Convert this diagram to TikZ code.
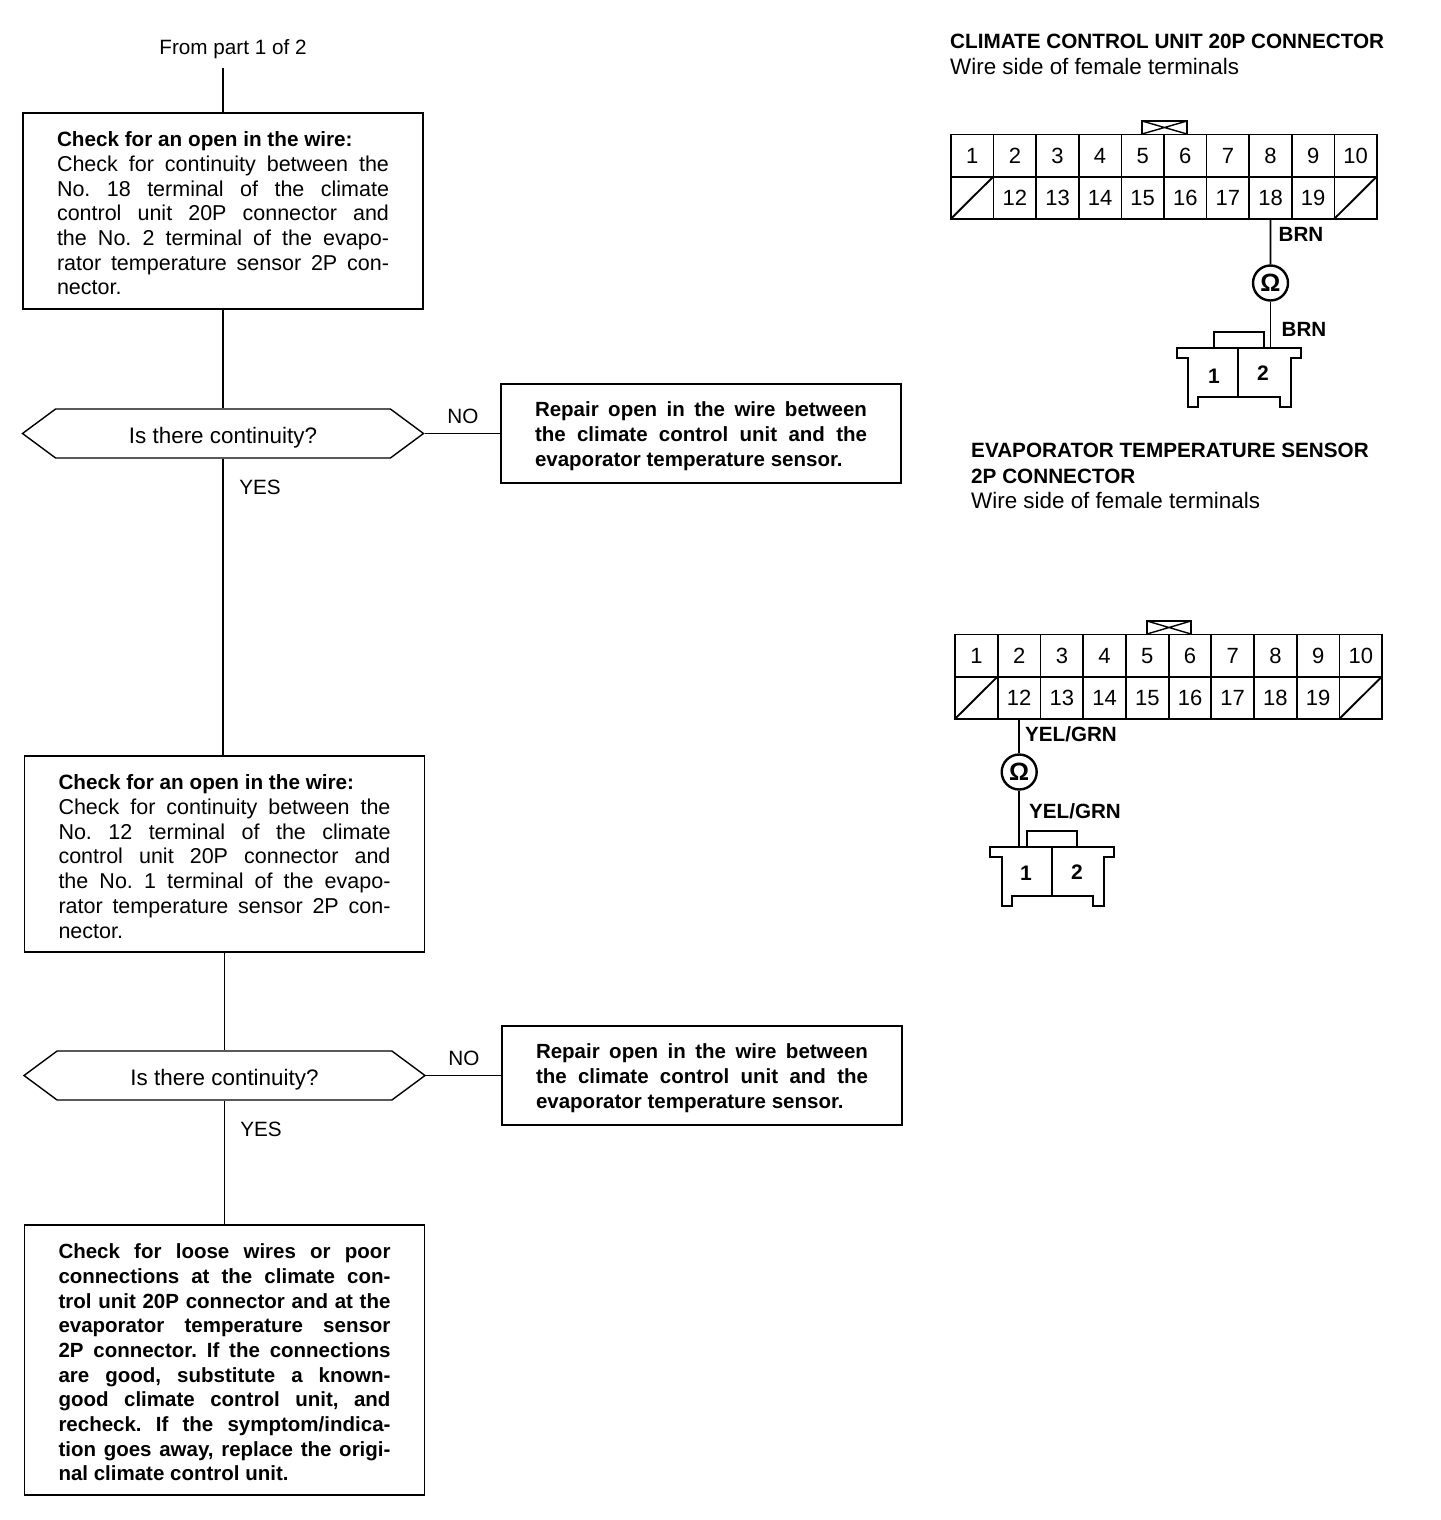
\documentclass[tikz,border=0pt]{standalone}
\usepackage{fontspec}
\setmainfont{Liberation Sans}
\usetikzlibrary{shapes.symbols}
\newcommand{\headfont}{\fontsize{20.7}{25.5}\selectfont\bfseries}
\tikzset{
  flowline/.style={line width=1.4pt},
  wireline/.style={line width=1.9pt},
  checkbox/.style={draw,flowline,inner xsep=34pt,inner ysep=0pt,text width=332pt,align=justify,
    font=\fontsize{21.5}{24.7}\selectfont\frenchspacing,execute at end node={\par\vspace*{-5pt}}},
  boldbox/.style={checkbox,font=\fontsize{20.5}{24.7}\selectfont\bfseries\frenchspacing},
  decision/.style={draw,flowline,shape=signal,signal to=west and east,signal pointer angle=73,
    minimum width=401pt,minimum height=49pt,inner sep=0pt,font=\fontsize{22.4}{24}\selectfont},
  flowtext/.style={font=\fontsize{20.7}{24}\selectfont,inner sep=0pt},
  headtext/.style={anchor=north west,align=left,inner sep=0pt,font=\fontsize{22.4}{25.5}\selectfont},
  wiretext/.style={inner sep=0pt,font=\fontsize{20.6}{24}\selectfont\bfseries},
  pincell/.style={draw,line width=1.7pt,minimum width=42.6pt,minimum height=42.3pt,inner sep=0pt,outer sep=0pt,
    text height=15.4pt,text depth=0pt,font=\fontsize{22}{24}\selectfont},
  ohmcircle/.style={draw,line width=2.4pt,circle,minimum size=35pt,inner sep=0pt,
    font=\fontsize{25}{24}\selectfont\bfseries},
  pinnum/.style={inner sep=0pt,font=\fontsize{21}{24}\selectfont\bfseries}
}
\begin{document}
\begin{tikzpicture}[x=1pt,y=-1pt]
\useasboundingbox (0,0) rectangle (1440,1520);

\node[flowtext] (fromtext) at (233,49) {From part 1 of 2};
\coordinate (fromend) at (223,68);

\node[checkbox,minimum height=196pt] (chkA) at (223,211) {{\headfont Check for an open in the wire:}\newline
Check for continuity between the\linebreak
No. 18 terminal of the climate\linebreak
control unit 20P connector and\linebreak
the No. 2 terminal of the evapo-\linebreak
rator temperature sensor 2P con-\linebreak
nector.};
\node[decision] (decA) at (223,433.5) {\smash{\raisebox{-9.5pt}{Is there continuity?}}};
\node[boldbox,minimum height=99pt] (repA) at (701,433.5) {Repair open in the wire between\linebreak
the climate control unit and the\linebreak
evaporator temperature sensor.};
\node[flowtext] (noA) at (463,416) {NO};
\node[flowtext] (yesA) at (260,487) {YES};

\node[checkbox,minimum height=196pt] (chkB) at (224.5,854) {{\headfont Check for an open in the wire:}\newline
Check for continuity between the\linebreak
No. 12 terminal of the climate\linebreak
control unit 20P connector and\linebreak
the No. 1 terminal of the evapo-\linebreak
rator temperature sensor 2P con-\linebreak
nector.};
\node[decision] (decB) at (224.5,1075.5) {\smash{\raisebox{-9.5pt}{Is there continuity?}}};
\node[boldbox,minimum height=99pt] (repB) at (702,1075.5) {Repair open in the wire between\linebreak
the climate control unit and the\linebreak
evaporator temperature sensor.};
\node[flowtext] (noB) at (464,1058) {NO};
\node[flowtext] (yesB) at (261,1129) {YES};

\node[boldbox,minimum height=270pt] (chkC) at (224.5,1360) {Check for loose wires or poor\linebreak
connections at the climate con-\linebreak
trol unit 20P connector and at the\linebreak
evaporator temperature sensor\linebreak
2P connector. If the connections\linebreak
are good, substitute a known-\linebreak
good climate control unit, and\linebreak
recheck. If the symptom/indica-\linebreak
tion goes away, replace the origi-\linebreak
nal climate control unit.};

\draw[flowline] (fromend) -- (chkA.north);
\draw[flowline] (chkA.south) -- (decA.north);
\draw[flowline] (decA.south) -- (decA.south |- chkB.north);
\draw[flowline] (decA.east) -- (repA.west);
\draw[flowline] (chkB.south) -- (decB.north);
\draw[flowline] (decB.south) -- (chkC.north);
\draw[flowline] (decB.east) -- (repB.west);

\node[headtext] (headA) at (950,34) {{\headfont CLIMATE CONTROL UNIT 20P CONNECTOR}\\Wire side of female terminals};
\node[headtext] (headB) at (971,443) {{\headfont EVAPORATOR TEMPERATURE SENSOR}\\{\headfont 2P CONNECTOR}\\Wire side of female terminals};

\foreach \n [count=\i from 0] in {1,...,10}
  \node[pincell] (a\n) at ({972.3+42.6*\i},155.5) {\n};
\foreach \n [count=\i from 1] in {12,...,19}
  \node[pincell] (a\n) at ({972.3+42.6*\i},197.5) {\n};
\foreach \n/\i in {11/0,20/9}{
  \node[pincell] (a\n) at ({972.3+42.6*\i},197.5) {};
  \draw[wireline] (a\n.south west) -- (a\n.north east);
}
\draw[flowline] (1142,134) |- (1187,121) -- (1187,134);
\draw[flowline] (1142,121) -- (1187,134) (1187,121) -- (1142,134);

\node[ohmcircle] (ohmA) at (1270.5,283) {Ω};
\coordinate (pinA) at (1270.5,348);
\draw[wireline] (a18.south) -- (ohmA.north);
\draw[wireline] (ohmA.south) -- (pinA);
\node[wiretext] (brnA) at (1301,234) {BRN};
\node[wiretext] (brnB) at (1304,329) {BRN};

\draw[wireline] (1177,348) -- (1301,348) -- (1301,358) -- (1291,358) -- (1291,407) -- (1280,407)
  -- (1280,397) -- (1198,397) -- (1198,407) -- (1188,407) -- (1188,358) -- (1177,358) -- cycle;
\draw[flowline] (1214,348) |- (1264,332) -- (1264,348);
\draw[flowline] (1238,348) -- (1238,397);
\node[pinnum] (oneA) at (1214,376) {1};
\node[pinnum] (twoA) at (1263,373) {2};

\foreach \n [count=\i from 0] in {1,...,10}
  \node[pincell] (b\n) at ({976.5+42.7*\i},655.5) {\n};
\foreach \n [count=\i from 1] in {12,...,19}
  \node[pincell] (b\n) at ({976.5+42.7*\i},697.5) {\n};
\foreach \n/\i in {11/0,20/9}{
  \node[pincell] (b\n) at ({976.5+42.7*\i},697.5) {};
  \draw[wireline] (b\n.south west) -- (b\n.north east);
}
\draw[flowline] (1147,634) |- (1191,621) -- (1191,634);
\draw[flowline] (1147,621) -- (1191,634) (1191,621) -- (1147,634);

\node[ohmcircle] (ohmB) at (1019.2,772) {Ω};
\coordinate (pinB) at (1019.2,847);
\draw[wireline] (b12.south) -- (ohmB.north);
\draw[wireline] (ohmB.south) -- (pinB);
\node[wiretext] (yelA) at (1071,734) {YEL/GRN};
\node[wiretext] (yelB) at (1075,811) {YEL/GRN};

\draw[wireline] (990,847) -- (1114,847) -- (1114,857) -- (1104,857) -- (1104,906) -- (1093,906)
  -- (1093,896) -- (1012,896) -- (1012,906) -- (1002,906) -- (1002,857) -- (990,857) -- cycle;
\draw[flowline] (1027,847) |- (1077,831) -- (1077,847);
\draw[flowline] (1052,847) -- (1052,896);
\node[pinnum] (oneB) at (1026,873) {1};
\node[pinnum] (twoB) at (1077,872) {2};
\end{tikzpicture}
\end{document}
